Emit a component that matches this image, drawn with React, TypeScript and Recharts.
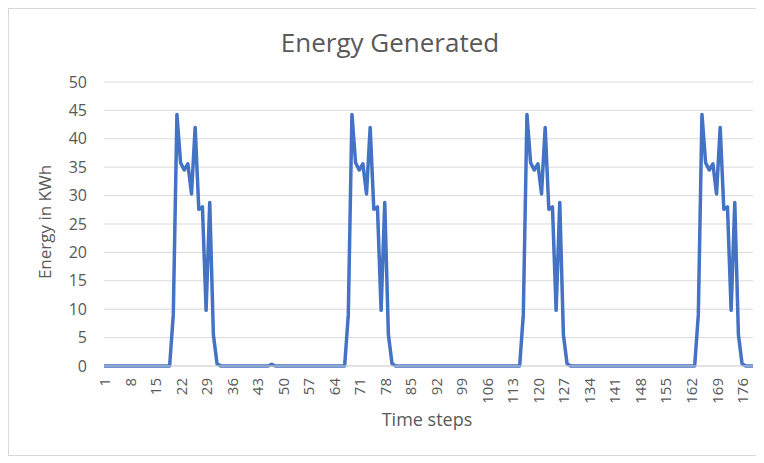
import { CartesianGrid, Line, LineChart, XAxis, YAxis } from 'recharts'

// energy per time step (KWh), steps 1..179
const energy = [
  0, 0, 0, 0, 0, 0, 0, 0, 0, 0,
  0, 0, 0, 0, 0, 0, 0, 0, 0, 9,
  44.3, 35.8, 34.5, 35.6, 30.3, 42, 27.6, 28, 9.8, 28.8,
  5.5, 0.4, 0, 0, 0, 0, 0, 0, 0, 0,
  0, 0, 0, 0, 0, 0, 0.3, 0, 0, 0,
  0, 0, 0, 0, 0, 0, 0, 0, 0, 0,
  0, 0, 0, 0, 0, 0, 0, 9, 44.3, 35.8,
  34.5, 35.6, 30.3, 42, 27.6, 28, 9.8, 28.8, 5.5, 0.4,
  0, 0, 0, 0, 0, 0, 0, 0, 0, 0,
  0, 0, 0, 0, 0, 0, 0, 0, 0, 0,
  0, 0, 0, 0, 0, 0, 0, 0, 0, 0,
  0, 0, 0, 0, 0, 9, 44.3, 35.8, 34.5, 35.6,
  30.3, 42, 27.6, 28, 9.8, 28.8, 5.5, 0.4, 0, 0,
  0, 0, 0, 0, 0, 0, 0, 0, 0, 0,
  0, 0, 0, 0, 0, 0, 0, 0, 0, 0,
  0, 0, 0, 0, 0, 0, 0, 0, 0, 0,
  0, 0, 0, 9, 44.3, 35.8, 34.5, 35.6, 30.3, 42,
  27.6, 28, 9.8, 28.8, 5.5, 0.4, 0, 0, 0,
]

const yTicks = [0, 5, 10, 15, 20, 25, 30, 35, 40, 45, 50]

const data = energy.map((value, i) => ({ step: i + 1, energy: value }))

const TEXT = '#595959'
const GRID = '#d9d9d9'
const BLUE = '#4472C4'

const XTick = ({ x, y, payload }: { x?: number; y?: number; payload?: { value: number } }) => {
  if (x == null || y == null || !payload) return null
  return (
    <text
      x={x}
      y={y}
      transform={`rotate(-90 ${x} ${y})`}
      textAnchor="end"
      dominantBaseline="central"
      fill={TEXT}
      fontSize={15}
    >
      {payload.value}
    </text>
  )
}

export default function App() {
  return (
    <div
      style={{
        position: 'relative',
        width: 748,
        height: 446,
        border: `1px solid ${GRID}`,
        background: '#fff',
        fontFamily: '"Open Sans", sans-serif',
      }}
    >
      <LineChart width={748} height={446} data={data} margin={{ top: 73, right: 4, left: 0, bottom: 0 }}>
        <CartesianGrid vertical={false} stroke={GRID} />
        <XAxis
          dataKey="step"
          interval={6}
          height={89}
          tickSize={0}
          tickMargin={12}
          tickLine={false}
          axisLine={{ stroke: GRID }}
          tick={<XTick />}
        />
        <YAxis
          width={95}
          domain={[0, 50]}
          ticks={yTicks}
          tickSize={0}
          tickMargin={17}
          tickLine={false}
          axisLine={false}
          tick={{ fill: TEXT, fontSize: 16 }}
        />
        <Line
          type="linear"
          dataKey="energy"
          stroke={BLUE}
          strokeWidth={3.5}
          strokeLinejoin="round"
          dot={false}
          isAnimationActive={false}
        />
        <text x={381} y={43} textAnchor="middle" fill={TEXT} fontSize={26}>
          Energy Generated
        </text>
        <text
          x={35}
          y={213}
          transform="rotate(-90 35 213)"
          textAnchor="middle"
          dominantBaseline="central"
          fill={TEXT}
          fontSize={17}
        >
          Energy in KWh
        </text>
        <text x={418} y={417} textAnchor="middle" fill={TEXT} fontSize={18}>
          Time steps
        </text>
      </LineChart>
    </div>
  )
}
